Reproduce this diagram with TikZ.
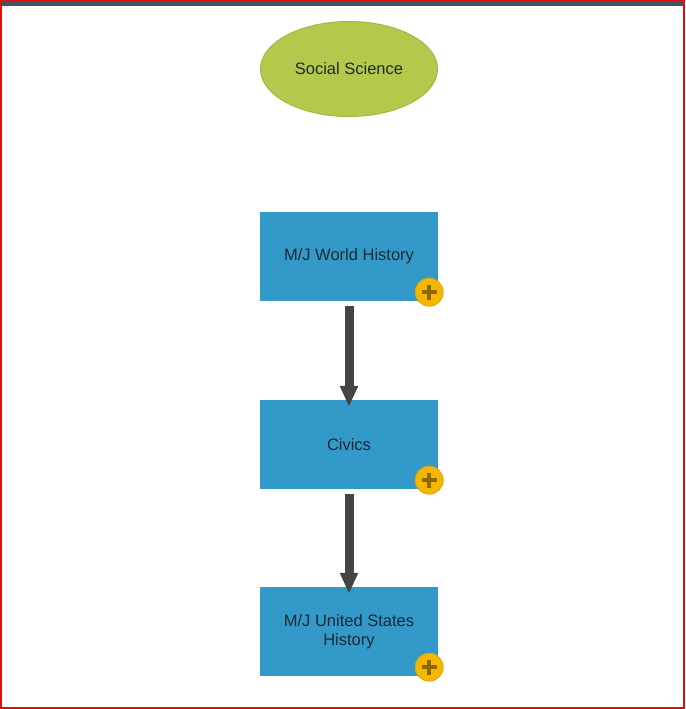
\documentclass[tikz,border=0pt]{standalone}
\usepackage{fontspec}
\setmainfont{Liberation Sans}
\usetikzlibrary{arrows.meta,shapes.geometric}
\definecolor{boxblue}{HTML}{3399C9}
\definecolor{ovalgreen}{HTML}{B4C94B}
\definecolor{ovaledge}{HTML}{A3B840}
\definecolor{badge}{HTML}{F5B700}
\definecolor{badgeedge}{HTML}{E3A600}
\definecolor{plusc}{HTML}{8C6A00}
\definecolor{arrowc}{HTML}{444444}
\definecolor{txt}{HTML}{1E2A30}
\definecolor{frame}{HTML}{E01010}
\definecolor{topbar}{HTML}{3E5563}
\tikzset{
  x=1pt,y=-1pt,
  topic/.style={rectangle,fill=boxblue,minimum width=178pt,minimum height=89pt,inner sep=0pt,
    text=txt,font=\fontsize{16.5}{19.5}\selectfont,align=center},
  oval/.style={ellipse,fill=ovalgreen,draw=ovaledge,line width=1pt,minimum width=177pt,minimum height=95pt,
    inner sep=0pt,text=txt,font=\fontsize{16.5}{19.5}\selectfont},
  badgestyle/.style={circle,fill=badge,draw=badgeedge,line width=0.8pt,minimum size=28pt,inner sep=0pt},
  flow/.style={draw=arrowc,line width=9pt,-{Triangle[width=17pt,length=21pt]},shorten <=5pt,shorten >=-7pt}
}
\begin{document}
\begin{tikzpicture}
\useasboundingbox (0,0) rectangle (685,709);
\fill[white] (0,0) rectangle (685,709);
\fill[topbar] (0,1.5) rectangle (685,6);
\draw[frame,line width=1.5pt] (0.75,0.75) rectangle (684,708);
\node[oval] (ss) at (349,69) {Social Science};
\node[topic] (wh) at (349,256.5) {M/J World History};
\node[topic] (cv) at (349,444.5) {Civics};
\node[topic] (us) at (349,631.5) {M/J United States\\History};
\foreach \n in {wh,cv,us}{
  \node[badgestyle] (\n b) at ([xshift=-9pt,yshift=9pt]\n.south east) {};
  \draw[plusc,line width=3.5pt] ([xshift=-7.5pt]\n b.center) -- ([xshift=7.5pt]\n b.center);
  \draw[plusc,line width=3.5pt] ([yshift=-7.5pt]\n b.center) -- ([yshift=7.5pt]\n b.center);
}
\draw[flow] (wh.south) -- (cv.north);
\draw[flow] (cv.south) -- (us.north);
\end{tikzpicture}
\end{document}
